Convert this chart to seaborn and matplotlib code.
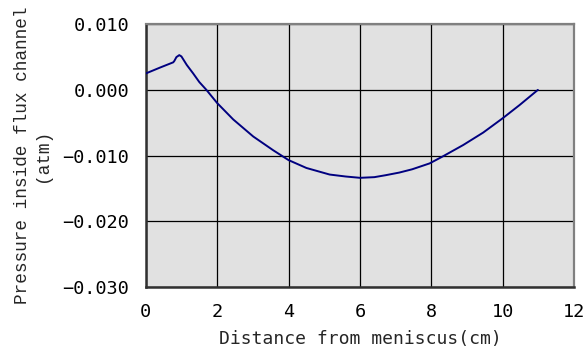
import matplotlib
matplotlib.use("Agg")
import matplotlib.pyplot as plt
import seaborn as sns
import pandas as pd

# Pressure profile along the flux channel
distance_cm = [0.0, 0.4, 0.77, 0.80, 0.86, 0.94, 1.00, 1.15, 1.33, 1.50, 1.70,
               2.0, 2.45, 3.01, 3.57, 4.0, 4.5, 5.15, 5.6, 6.0, 6.4, 6.72,
               7.1, 7.46, 7.95, 8.33, 8.89, 9.45, 10.0, 10.47, 10.98]
pressure_atm = [0.0025, 0.0034, 0.0042, 0.0044, 0.0050, 0.0053, 0.0051, 0.0038,
                0.0025, 0.0012, 0.0, -0.0020, -0.0045, -0.0071, -0.0092,
                -0.0107, -0.0119, -0.0129, -0.0132, -0.0134, -0.0133, -0.0130,
                -0.0126, -0.0121, -0.0112, -0.0101, -0.0084, -0.0065, -0.0043,
                -0.0023, 0.0]

x_ticks = [0, 2, 4, 6, 8, 10, 12]
y_ticks = [-0.030, -0.020, -0.010, 0.000, 0.010]
y_tick_labels = ["\u22120.030", "\u22120.020", "\u22120.010", "0.000", "0.010"]

df = pd.DataFrame({"distance": distance_cm, "pressure": pressure_atm})

sns.set_style("white")
plt.rcParams["font.family"] = ["DejaVu Sans Mono"]

fig = plt.figure(figsize=(5.88, 3.54), dpi=100)
ax = fig.add_axes([0.2478, 0.1900, 0.7289, 0.7414])
ax.set_facecolor("#e1e1e1")

sns.lineplot(data=df, x="distance", y="pressure", ax=ax, color="#000080",
             linewidth=1.4, sort=False, estimator=None, zorder=3)

ax.set_xlim(0, 12)
ax.set_ylim(-0.030, 0.010)
ax.set_xticks(x_ticks)
ax.set_xticklabels([str(t) for t in x_ticks])
ax.set_yticks(y_ticks)
ax.set_yticklabels(y_tick_labels)

ax.grid(True, color="black", linewidth=0.9, zorder=1)
ax.set_axisbelow(True)

for side in ("top", "right"):
    ax.spines[side].set_color("#808080")
    ax.spines[side].set_linewidth(1.6)
for side in ("left", "bottom"):
    ax.spines[side].set_color("#303030")
    ax.spines[side].set_linewidth(1.8)

ax.tick_params(axis="both", direction="out", length=4, width=1.2,
               color="#303030", labelsize=13.3, pad=8, labelcolor="black")

ax.set_xlabel("Distance from meniscus(cm)", fontsize=13, labelpad=6)
ax.set_ylabel("Pressure inside flux channel\n(atm)", fontsize=12.8,
              family="Liberation Mono", linespacing=1.25, labelpad=8)

fig.savefig("out.png", dpi=100, facecolor="white")
